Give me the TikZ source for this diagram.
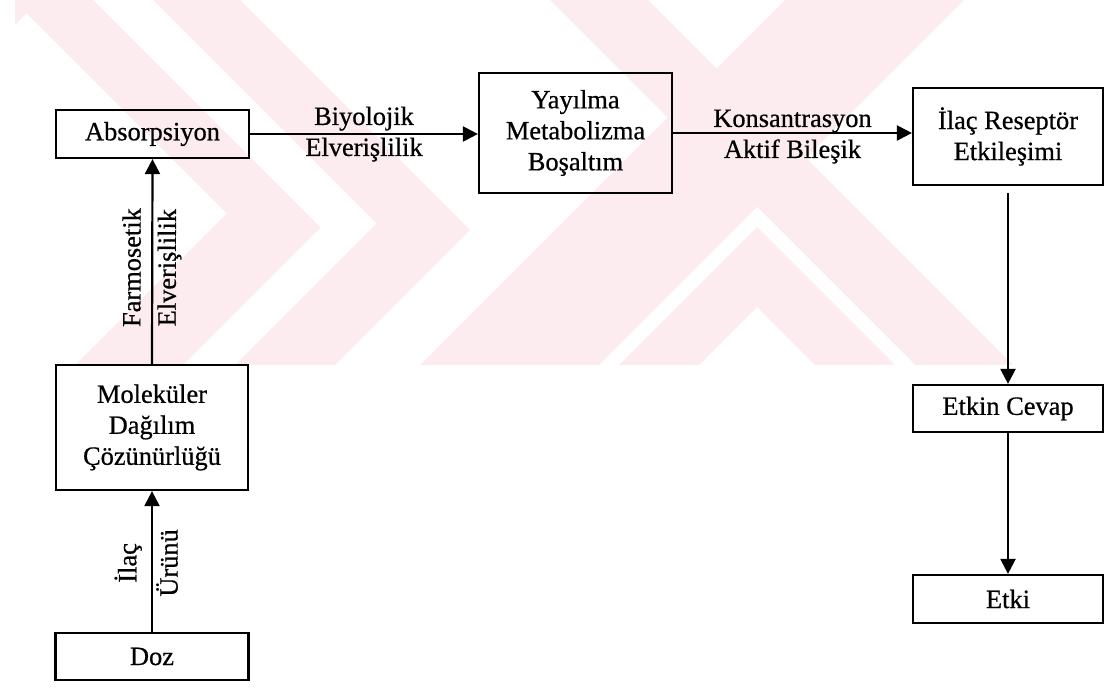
\documentclass[tikz,border=0pt]{standalone}
\usepackage{fontspec}
\setmainfont{Liberation Serif}[FakeBold=0.6]
\usetikzlibrary{arrows.meta,calc}
\definecolor{wm}{RGB}{253,236,239}
\begin{document}
\begin{tikzpicture}[x=1pt,y=-1pt,
  box/.style={draw, line width=2.2pt, rectangle, inner sep=0pt, align=center,
    font=\fontsize{26.4}{31}\selectfont},
  lbl/.style={font=\fontsize{26.4}{31}\selectfont, text height=18.5pt, text depth=6.6pt},
  conn/.style={line width=2.2pt, -{Triangle[length=15pt,width=15pt]}},
  wmark/.style={fill=wm, draw=none},
  wgap/.style={fill=white, draw=none}]
\useasboundingbox (0,0) rectangle (1105,692);
% watermark (pale stripes)
\begin{scope}
\clip (15,0) rectangle (1012,365);
% left chevrons
\fill[wmark] (0,0) -- (93,0) -- (320.5,227.5) -- (183,365) -- (0,365) -- cycle;
\fill[wgap] (0,0) -- (13,0) -- (226.5,213.5) -- (75,365) -- (0,365) -- cycle;
\fill[wmark] (0,-20) -- (0,40) -- (40,0) -- cycle;
\fill[wmark] (153,0) -- (240,0) -- (470,230) -- (335,365) -- (235,365) -- (376.5,223.5) -- cycle;
% right X
\fill[wmark] (550,0) -- (648,0) -- (1013,365) -- (915,365) -- cycle;
\fill[wmark] (785,0) -- (964,0) -- (599,365) -- (420,365) -- cycle;
\fill[wgap] (757,207) -- (915,365) -- (599,365) -- cycle;
\fill[wmark] (757,227) -- (895,365) -- (815,365) -- (757,307) -- (699,365) -- (619,365) -- cycle;
\end{scope}
% nodes
\node[box, minimum width=193pt, minimum height=48pt] (abs) at (152.5,134) {Absorpsiyon};
\node[box, minimum width=193pt, minimum height=120pt] (yay) at (575.5,133) {Yayılma\\Metabolizma\\Boşaltım};
\node[box, minimum width=190pt, minimum height=97pt] (ilac) at (1008,136.5) {İlaç Reseptör\\Etkileşimi};
\node[box, minimum width=192pt, minimum height=125pt] (mol) at (152,427.5) {Moleküler\\Dağılım\\Çözünürlüğü};
\node[box, minimum width=193pt, minimum height=47pt] (doz) at (152,656.5) {Doz};
\node[box, minimum width=190pt, minimum height=47pt] (etkin) at (1008,408.5) {Etkin Cevap};
\node[box, minimum width=190pt, minimum height=48pt] (etki) at (1008,599) {Etki};
% connectors
\draw[conn] (abs.east) -- (abs.east -| yay.west)
  node[lbl, midway, yshift=15pt] {Biyolojik}
  node[lbl, midway, yshift=-16pt] {Elverişlilik};
\draw[conn] (yay.east) -- (yay.east -| ilac.west)
  node[lbl, midway, yshift=12pt] {Konsantrasyon}
  node[lbl, midway, yshift=-19pt] {Aktif Bileşik};
\draw[conn, shorten <=7pt] (ilac.south) -- (etkin.north);
\draw[conn] (etkin.south) -- (etki.north);
\draw[conn] (mol.north) -- (abs.south)
  node[lbl, pos=0.47, sloped, above, inner sep=4pt] {Farmosetik}
  node[lbl, pos=0.47, sloped, below, inner sep=4pt] {Elverişlilik};
\draw[conn] (doz.north) -- (mol.south)
  node[lbl, pos=0.49, sloped, above, inner sep=8pt] {İlaç}
  node[lbl, pos=0.49, sloped, below, inner sep=6pt] {Ürünü};
\end{tikzpicture}
\end{document}
